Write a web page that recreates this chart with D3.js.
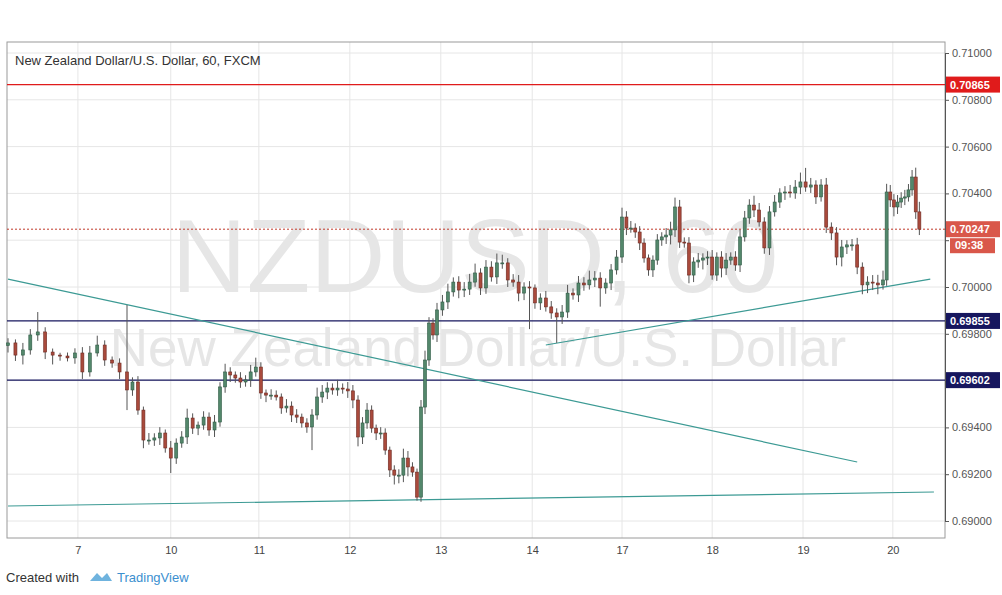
<!DOCTYPE html>
<html><head><meta charset="utf-8">
<script src="https://cdn.jsdelivr.net/npm/d3@7"></script>
<style>body{margin:0;background:#fff;font-family:Arial,"Liberation Sans",sans-serif}</style>
</head><body><svg id="c" width="1002" height="595"></svg>
<script>
const closes=[0.69761,0.69709,0.69731,0.69795,0.69808,0.69722,0.69709,0.69705,0.69697,0.69718,
0.69637,0.69718,0.69752,0.69688,0.69675,0.69637,0.69560,0.69594,0.69474,0.69346,
0.69346,0.69355,0.69376,0.69312,0.69269,0.69333,0.69359,0.69440,0.69397,0.69410,
0.69444,0.69389,0.69423,0.69573,0.69637,0.69624,0.69611,0.69594,0.69603,0.69637,
0.69658,0.69547,0.69538,0.69538,0.69530,0.69483,0.69491,0.69453,0.69444,0.69419,
0.69402,0.69453,0.69530,0.69551,0.69568,0.69560,0.69568,0.69564,0.69556,0.69517,
0.69359,0.69419,0.69474,0.69397,0.69376,0.69376,0.69303,0.69218,0.69196,0.69196,
0.69269,0.69231,0.69209,0.69102,0.69487,0.69688,0.69846,0.69795,0.69902,
0.69936,0.69979,0.70021,0.69987,0.69991,0.70021,0.70060,0.69996,0.70085,0.70043,
0.70103,0.70103,0.70030,0.70021,0.69974,0.70000,0.69996,0.69932,0.69953,0.69915,
0.69889,0.69872,0.69893,0.69974,0.69966,0.70017,0.70009,0.70030,0.70038,0.69996,
0.70017,0.70073,0.70128,0.70299,0.70252,0.70252,0.70235,0.70188,0.70124,0.70073,
0.70115,0.70201,0.70214,0.70222,0.70244,0.70342,0.70192,0.70188,0.70051,0.70107,
0.70115,0.70124,0.70128,0.70051,0.70128,0.70081,0.70115,0.70128,0.70094,0.70214,
0.70295,0.70350,0.70329,0.70278,0.70167,0.70321,0.70363,0.70402,0.70406,0.70402,
0.70427,0.70449,0.70427,0.70436,0.70385,0.70436,0.70256,0.70231,0.70128,0.70171,
0.70180,0.70180,0.70085,0.70009,0.70021,0.70017,0.70009,0.70030,0.70406,0.70372,
0.70342,0.70363,0.70380,0.70385,0.70415,0.70470,0.70321,0.70247];
const firstOpen=0.69750;
// wick lengths in 1e-5 units
const upperWick=[20,15,30,25,85,20,15,10,15,20, 25,30,40,20,15,20,286,20,25,15,
30,20,25,15,30,20,25,40,20,15, 25,20,30,20,35,20,15,25,20,30, 40,20,15,25,20,15,30,20,25,15,
20,25,40,30,25,20,35,20,30,25, 20,25,30,20,15,25,20,15,20,25, 40,30,20,15,30,40,25,20,30,
30,35,20,25,30,35,40,20,30,25, 40,35,20,25,30,20,25,15,20,30, 25,20,30,35,20,30,25,40,30,25,
20,25,30,40,25,30,20,25,20,15, 20,25,20,30,35,40,30,20,25,20, 30,20,25,30,20,25,30,20,25,30,
30,25,40,30,20,25,30,20,25,30, 30,40,60,30,20,25,30,20,25,30, 20,25,30,20,25,30,35,40,35,30,
25,30,25,30,25,30,40,43];
const lowerWick=[30,25,40,20,25,30,40,20,15,25, 30,20,15,25,20,30,86,25,20,35,
20,25,30,20,64,25,20,30,25,30, 20,25,30,20,25,30,20,25,20,30, 20,25,30,20,15,25,20,30,25,20,
25,99,20,25,30,20,25,20,30,35, 40,30,25,20,30,25,20,30,40,35, 30,40,20,15,20,30,25,20,30,
25,30,20,35,30,25,20,30,25,20, 30,25,30,20,35,30,176,25,30,20, 25,111,30,25,20,30,25,20,30,80,
25,30,20,25,30,20,25,30,20,25, 30,20,25,30,40,30,25,20,35,30, 25,40,30,20,25,40,30,20,25,30,
20,25,30,20,25,30,20,25,30,20, 25,30,20,25,30,20,25,30,35,40, 30,25,30,40,35,30,40,20,25,30,
40,30,25,30,20,25,30,25];
const dayLabels=["7","10","11","12","13","14","17","18","19","20"];
const dayIndex=[9.4,24,40.6,58.4,78.7,95.5,112,132,150.5,168.7];
const priceTicks=[0.690,0.692,0.694,0.696,0.698,0.700,0.702,0.704,0.706,0.708,0.710];
const hLevels=[{p:0.70865,c:"#e01b1b"},{p:0.69855,c:"#16165e"},{p:0.69602,c:"#16165e"}];
const trendLines=[[0,0.70034,161,0.69252],[0,0.69064,180,0.69124],[98,0.69752,179,0.70034]];
const lastPrice=0.70247;

const svg=d3.select("#c");
const L=7,R=945,T=42,B=538;
const x=d3.scaleLinear().domain([0,16,33,60,73,78,112,124,141,166,177]).range([8,127,220,358,417,437,622,675,754,883,923]);
const y=d3.scaleLinear().domain([0.69,0.71]).range([521,53]);
const bars=closes.map((c,i)=>{const o=i?closes[i-1]:firstOpen;return{i,o,c,h:Math.max(o,c)+upperWick[i]*1e-5,l:Math.min(o,c)-lowerWick[i]*1e-5};});

svg.append("rect").attr("x",0).attr("y",0).attr("width",1002).attr("height",595).attr("fill","#fff");
svg.append("g").selectAll("line").data(priceTicks).join("line").attr("x1",L).attr("x2",R).attr("y1",d=>y(d)).attr("y2",d=>y(d)).attr("stroke","#e6e6e6");
svg.append("g").selectAll("line").data(dayIndex).join("line").attr("x1",d=>x(d)).attr("x2",d=>x(d)).attr("y1",T).attr("y2",B).attr("stroke","#e6e6e6");
svg.append("text").attr("x",475).attr("y",292).attr("text-anchor","middle").attr("font-size",104).attr("fill","#e6e6e6").text("NZDUSD, 60");
svg.append("text").attr("x",478).attr("y",366).attr("text-anchor","middle").attr("font-size",53).attr("fill","#e6e6e6").text("New Zealand Dollar/U.S. Dollar");
svg.append("rect").attr("x",L).attr("y",T).attr("width",R-L).attr("height",B-T).attr("fill","none").attr("stroke","#9a9a9a");
hLevels.forEach(h=>svg.append("line").attr("x1",L).attr("x2",R).attr("y1",y(h.p)).attr("y2",y(h.p)).attr("stroke",h.c).attr("stroke-width",1.2));
svg.append("line").attr("x1",L).attr("x2",R).attr("y1",y(lastPrice)).attr("y2",y(lastPrice)).attr("stroke","#c0392b").attr("stroke-dasharray","2,2");
svg.append("g").selectAll("line").data(trendLines).join("line").attr("x1",d=>x(d[0])).attr("y1",d=>y(d[1])).attr("x2",d=>x(d[2])).attr("y2",d=>y(d[3])).attr("stroke","#3c9a94").attr("stroke-width",1.2);
const g=svg.append("g");
const bw=3;
g.selectAll("line").data(bars).join("line").attr("x1",d=>x(d.i)).attr("x2",d=>x(d.i)).attr("y1",d=>y(d.h)).attr("y2",d=>y(d.l)).attr("stroke","#555");
g.selectAll("rect").data(bars).join("rect").attr("x",d=>x(d.i)-bw/2).attr("width",bw)
 .attr("y",d=>y(Math.max(d.o,d.c))).attr("height",d=>Math.max(1,Math.abs(y(d.o)-y(d.c))))
 .attr("fill",d=>d.c>=d.o?"#53876b":"#a94a3c").attr("stroke",d=>d.c>=d.o?"#2f5a45":"#6e2a22").attr("stroke-width",0.6);
const ax=svg.append("g").attr("transform",`translate(${R},0)`).call(d3.axisRight(y).tickValues(priceTicks).tickFormat(d3.format(".5f")).tickSize(4));
ax.select(".domain").attr("stroke","#555");
ax.selectAll("text").attr("font-size",11).attr("fill","#555").attr("font-family","Arial,Liberation Sans");
ax.selectAll("line").attr("stroke","#555");
ax.selectAll(".tick").filter(d=>Math.abs(d-0.702)<1e-9).select("text").remove();
const bx=svg.append("g").attr("transform",`translate(0,${B})`).call(d3.axisBottom(x).tickValues(dayIndex).tickFormat((d,i)=>dayLabels[i]).tickSize(0).tickPadding(8));
bx.select(".domain").remove();
bx.selectAll("text").attr("font-size",11).attr("fill","#444").attr("font-family","Arial,Liberation Sans");
function tag(p,bg,txt){const yy=y(p);svg.append("rect").attr("x",R+1).attr("y",yy-8).attr("width",54).attr("height",16).attr("fill",bg);
 svg.append("text").attr("x",R+5).attr("y",yy+4).attr("font-size",11).attr("font-weight","bold").attr("fill","#fff").text(txt);}
tag(0.70865,"#e01b1b","0.70865");
tag(0.69855,"#16165e","0.69855");
tag(0.69602,"#16165e","0.69602");
tag(lastPrice,"#d9574a","0.70247");
svg.append("rect").attr("x",R+5).attr("y",y(lastPrice)+9).attr("width",45).attr("height",15).attr("fill","#d9574a");
svg.append("text").attr("x",R+10).attr("y",y(lastPrice)+20).attr("font-size",11).attr("font-weight","bold").attr("fill","#fff").text("09:38");
svg.append("text").attr("x",15).attr("y",65).attr("font-size",13).attr("fill","#333").text("New Zealand Dollar/U.S. Dollar, 60, FXCM");
svg.append("text").attr("x",6).attr("y",582).attr("font-size",13).attr("fill","#333").text("Created with");
svg.append("path").attr("d","M90,581 l7,-8 l5,5 l5,-5 l5,8 z").attr("fill","#6fb3de");
svg.append("text").attr("x",117).attr("y",582).attr("font-size",13).attr("fill","#3b8fcf").text("TradingView");
</script></body></html>
